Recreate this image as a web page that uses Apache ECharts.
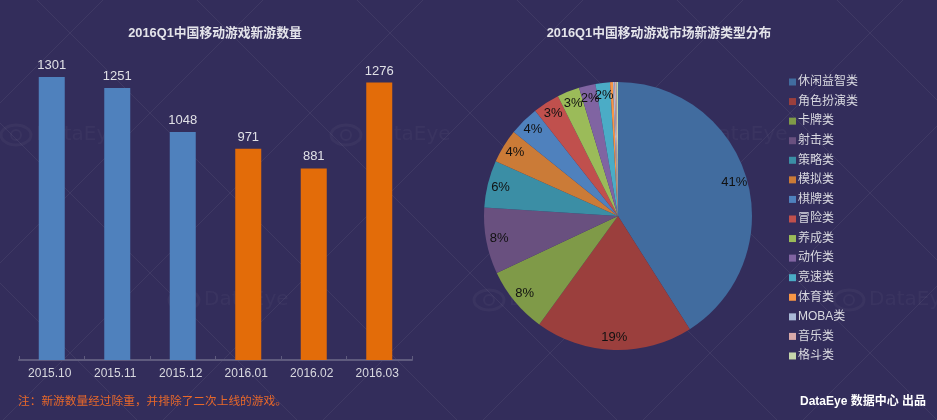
<!DOCTYPE html>
<html>
<head>
<meta charset="utf-8">
<style>
html,body{margin:0;padding:0;background:#332d5b}
#main{width:937px;height:420px}
</style>
<script src="https://cdn.jsdelivr.net/npm/echarts@6/dist/echarts.min.js"></script>
</head>
<body>
<div id="main"></div>
<script>
var months = ['2015.10', '2015.11', '2015.12', '2016.01', '2016.02', '2016.03']
var newGames = [1301, 1251, 1048, 971, 881, 1276]
var barColors = ['#4f81bd', '#4f81bd', '#4f81bd', '#e36c09', '#e36c09', '#e36c09']
var gameTypes = ['休闲益智类', '角色扮演类', '卡牌类', '射击类', '策略类', '模拟类', '棋牌类', '冒险类', '养成类', '动作类', '竞速类', '体育类', 'MOBA类', '音乐类', '格斗类']
var typeShare = [41, 19, 8, 8, 5.7, 4.1, 3.6, 3.2, 2.7, 2, 1.75, 0.35, 0.2, 0.2, 0.2]
var typeColors = ['#416c9f', '#9b3f3d', '#7f9a48', '#69507f', '#3b8ea5', '#cb7b37', '#4f81bd', '#c0504d', '#9bbb59', '#8064a2', '#4bacc6', '#f79646', '#aabad7', '#d9aaa9', '#c6d6ac']

var myChart = echarts.init(document.querySelector('#main'), null, { renderer: 'canvas' })
var cjk = '"Liberation Sans", "Noto Sans CJK SC", sans-serif'

var pieData = gameTypes.map(function (name, i) {
  return { name: name, value: typeShare[i], itemStyle: { color: typeColors[i] } }
})

// 背景水印：斜线网格 + DataEye 标志
var watermark = []
var lineStyle = { stroke: 'rgba(255,255,255,0.06)', lineWidth: 1 }
for (var c = -900; c <= 1400; c += 160) {
  watermark.push({ type: 'line', silent: true, shape: { x1: 0, y1: -417 + c, x2: 937, y2: 937 - 417 + c }, style: lineStyle })
  watermark.push({ type: 'line', silent: true, shape: { x1: 0, y1: 523 + c, x2: 937, y2: 523 + c - 937 }, style: lineStyle })
}
var logos = [[0, 135], [330, 135], [667, 135], [168, 300], [473, 300], [833, 300]]
var markColor = 'rgba(255,255,255,0.035)'
logos.forEach(function (p) {
  watermark.push({ type: 'ellipse', silent: true, shape: { cx: p[0] + 16, cy: p[1], rx: 15, ry: 10 }, style: { fill: 'none', stroke: markColor, lineWidth: 3 } })
  watermark.push({ type: 'circle', silent: true, shape: { cx: p[0] + 16, cy: p[1], r: 5 }, style: { fill: 'none', stroke: markColor, lineWidth: 2 } })
  watermark.push({ type: 'text', silent: true, x: p[0] + 36, y: p[1], style: { text: 'DataEye', fill: markColor, fontSize: 20, fontFamily: 'DejaVu Sans', verticalAlign: 'middle' } })
})

myChart.setOption({
  backgroundColor: '#332d5b',
  animation: false,
  graphic: watermark,
  title: [
    { text: '2016Q1中国移动游戏新游数量', left: 210, top: 22, textAlign: 'center', textStyle: { color: '#e4e4ea', fontSize: 12.8, fontWeight: 'bold', fontFamily: cjk } },
    { text: '2016Q1中国移动游戏市场新游类型分布', left: 654, top: 22, textAlign: 'center', textStyle: { color: '#e4e4ea', fontSize: 12.8, fontWeight: 'bold', fontFamily: cjk } },
    { text: '注：新游数量经过除重，并排除了二次上线的游戏。', left: 13, top: 391, textStyle: { color: '#e8682a', fontSize: 11.7, fontWeight: 'normal', fontFamily: cjk } },
    { text: 'DataEye 数据中心 出品', left: 795, top: 391, textStyle: { color: '#ffffff', fontSize: 12, fontWeight: 'bold', fontFamily: cjk } }
  ],
  grid: { left: 19, top: 55.5, width: 393, height: 304.5 },
  xAxis: {
    type: 'category',
    data: months,
    axisLine: { lineStyle: { color: '#5f5b7e', width: 2 } },
    axisTick: { show: true, length: 4, inside: true, lineStyle: { color: '#5f5b7e', width: 1 } },
    axisLabel: { color: '#d9d9e0', fontSize: 12, margin: 8, padding: [0, 4, 0, 0], fontFamily: 'Liberation Sans' }
  },
  yAxis: { type: 'value', min: 0, max: 1400, show: false },
  legend: {
    orient: 'vertical',
    left: 784,
    top: 71,
    itemWidth: 7,
    itemHeight: 7,
    itemGap: 7.57,
    icon: 'rect',
    data: gameTypes,
    textStyle: { color: '#d9d9e0', fontSize: 12, padding: [0, 0, 0, -3], fontFamily: cjk }
  },
  series: [
    {
      type: 'bar',
      barWidth: 26,
      data: newGames.map(function (v, i) {
        return { value: v, itemStyle: { color: barColors[i] } }
      }),
      label: { show: true, position: 'top', distance: 5, color: '#e0e0e6', fontSize: 13, fontFamily: 'Liberation Sans' }
    },
    {
      type: 'pie',
      center: [618, 216],
      radius: [0, 134],
      startAngle: 90,
      clockwise: true,
      data: pieData,
      label: { show: false },
      labelLine: { show: false },
      emphasis: { disabled: true }
    },
    {
      // 只用来放百分比标签，放在靠外的位置
      type: 'pie',
      center: [618, 216],
      radius: [102, 134],
      startAngle: 90,
      silent: true,
      avoidLabelOverlap: false,
      data: pieData.map(function (d) {
        return { name: d.name, value: d.value, itemStyle: { color: 'transparent' } }
      }),
      label: {
        show: true,
        position: 'inside',
        color: '#111111',
        fontSize: 13,
        fontFamily: 'Liberation Sans',
        formatter: function (p) {
          return p.value < 1 ? '' : Math.round(p.value) + '%'
        }
      },
      labelLayout: { hideOverlap: false },
      labelLine: { show: false },
      emphasis: { disabled: true }
    }
  ]
})
</script>
</body>
</html>
